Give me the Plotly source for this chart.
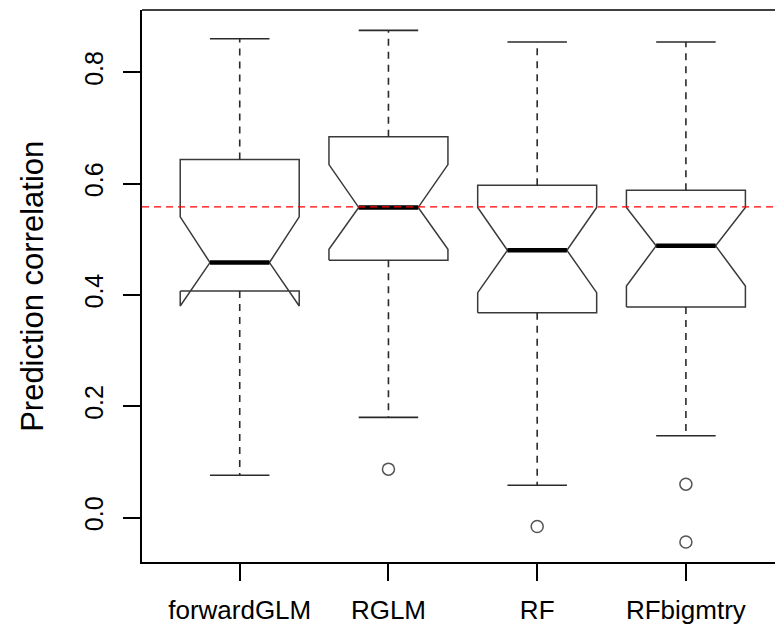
import plotly.graph_objects as go

# ---- data ----
methods = ["forwardGLM", "RGLM", "RF", "RFbigmtry"]
upper_whisker = [0.860, 0.875, 0.854, 0.854]
q3 = [0.643, 0.684, 0.597, 0.588]
notch_upper = [0.540, 0.634, 0.557, 0.557]
median = [0.458, 0.557, 0.480, 0.488]
notch_lower = [0.380, 0.482, 0.404, 0.416]
q1 = [0.407, 0.462, 0.368, 0.378]
lower_whisker = [0.076, 0.180, 0.058, 0.147]
outlier_method = ["RGLM", "RF", "RFbigmtry", "RFbigmtry"]
outlier_value = [0.087, -0.016, 0.060, -0.044]
reference_line = 0.558
y_ticks = [0.0, 0.2, 0.4, 0.6, 0.8]
y_tick_labels = ["0.0", "0.2", "0.4", "0.6", "0.8"]

FONT = "Liberation Sans, Arial, sans-serif"
BOX_HALF = 0.4
NOTCH_FRAC = 0.5
CAP_HALF = 0.2
BOX_COLOR = "#3a3a3a"

fig = go.Figure()

for i, name in enumerate(methods):
    x = i + 1
    w = BOX_HALF
    n = BOX_HALF * NOTCH_FRAC
    # notched box outline
    xs = [x - w, x + w, x + w, x + n, x + w, x + w, x - w, x - w, x - n, x - w, x - w]
    ys = [q1[i], q1[i], notch_lower[i], median[i], notch_upper[i], q3[i],
          q3[i], notch_upper[i], median[i], notch_lower[i], q1[i]]
    fig.add_trace(go.Scatter(x=xs, y=ys, mode="lines",
                             line=dict(color=BOX_COLOR, width=1.5),
                             hoverinfo="skip", showlegend=False))
    # whiskers (dashed)
    fig.add_trace(go.Scatter(x=[x, x, None, x, x],
                             y=[q3[i], upper_whisker[i], None, q1[i], lower_whisker[i]],
                             mode="lines",
                             line=dict(color="#2a2a2a", width=1.6, dash="7px,6px"),
                             hoverinfo="skip", showlegend=False))
    # caps
    fig.add_trace(go.Scatter(x=[x - CAP_HALF, x + CAP_HALF, None, x - CAP_HALF, x + CAP_HALF],
                             y=[upper_whisker[i], upper_whisker[i], None,
                                lower_whisker[i], lower_whisker[i]],
                             mode="lines",
                             line=dict(color="#2a2a2a", width=1.6),
                             hoverinfo="skip", showlegend=False))
    # median
    fig.add_trace(go.Scatter(x=[x - n, x + n], y=[median[i], median[i]],
                             mode="lines",
                             line=dict(color="black", width=4.5),
                             hoverinfo="skip", showlegend=False))

# outliers
fig.add_trace(go.Scatter(
    x=[methods.index(m) + 1 for m in outlier_method], y=outlier_value,
    mode="markers",
    marker=dict(symbol="circle-open", size=12, color="#555555", line=dict(width=1.5)),
    hoverinfo="skip", showlegend=False))

# reference line
fig.add_shape(type="line", xref="paper", x0=0, x1=1, yref="y",
              y0=reference_line, y1=reference_line,
              line=dict(color="red", width=1.3, dash="7px,5px"))
# top frame line
fig.add_shape(type="line", xref="paper", x0=0, x1=1, yref="paper", y0=1, y1=1,
              line=dict(color="black", width=1.5))

fig.add_annotation(text="Prediction correlation", xref="paper", yref="paper",
                   x=-0.174, y=0.5, xanchor="center", yanchor="middle",
                   textangle=-90, showarrow=False,
                   font=dict(family=FONT, size=31, color="black"))

fig.update_layout(
    width=775, height=626,
    margin=dict(l=142, r=0, t=10, b=64),
    paper_bgcolor="white", plot_bgcolor="white",
    font=dict(family=FONT, color="black"),
    xaxis=dict(range=[0.343, 4.599], tickvals=[1, 2, 3, 4], ticktext=methods,
               showgrid=False, zeroline=False, showline=True, linecolor="black",
               linewidth=1.5, ticks="outside", ticklen=17, tickwidth=1.5,
               tickcolor="black", tickfont=dict(size=26, family=FONT),
               ticklabelstandoff=7),
    yaxis=dict(range=[-0.0798, 0.9116], tickvals=y_ticks, ticktext=y_tick_labels,
               showgrid=False, zeroline=False, showline=True, linecolor="black",
               linewidth=1.5, ticks="outside", ticklen=17, tickwidth=1.5,
               tickcolor="black", tickangle=-90, tickfont=dict(size=25, family=FONT),
               ticklabelstandoff=10),
)

fig.write_html("out.html", config={"displayModeBar": False},
               post_script="document.body.style.margin='0';document.body.style.padding='0';")
